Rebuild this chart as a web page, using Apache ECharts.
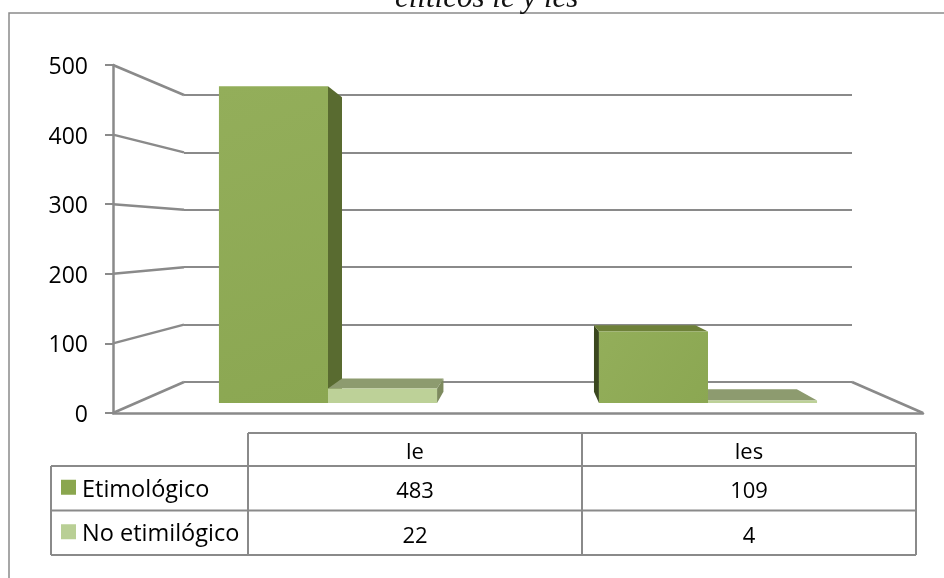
<!DOCTYPE html>
<html>
<head>
<meta charset="utf-8">
<style>html,body{margin:0;padding:0;background:#fff}#chart{width:944px;height:578px}</style>
<script src="https://cdn.jsdelivr.net/npm/echarts@6/dist/echarts.min.js"></script>
</head>
<body>
<div id="chart"></div>
<script>
// Pronoun counts per clitic form
const categories = ['le', 'les'];
const etimologico = [483, 109];
const noEtimologico = [22, 4];
const seriesNames = ['Etimológico', 'No etimilógico'];
const yTicks = [0, 100, 200, 300, 400, 500];
const chartTitle = 'clíticos le y les';

const UI_FONT = '"Open Sans", "Noto Sans", sans-serif';
const LINE = '#8a8a8a';

// Oblique view: rear faces of the bars shrink towards one vanishing point
const VP = { x: 528, y: 243, scale: 0.93 };
const toRear = (p) => [
  VP.x + (p[0] - VP.x) * VP.scale,
  VP.y + (p[1] - VP.y) * VP.scale
];

const chart = echarts.init(document.getElementById('chart'), null, { renderer: 'canvas' });

const polygon = (points, fill, z2) => ({
  type: 'polygon',
  z2,
  shape: { points },
  style: { fill }
});

// One 3D column: front face plus whichever side and top faces the view exposes
function columnRenderer(side, palette) {
  return function (params, api) {
    const base = api.coord([api.value(0), 0]);
    const head = api.coord([api.value(0), api.value(1)]);
    const w = api.size([1, 0])[0] * 0.287;
    const x0 = side < 0 ? base[0] - w : base[0];
    const x1 = x0 + w;
    const tl = [x0, head[1]], tr = [x1, head[1]];
    const bl = [x0, base[1]], br = [x1, base[1]];
    // Nearer the vanishing point means painted later
    const z2 = 1000 - Math.abs((x0 + x1) / 2 - VP.x);
    const faces = [];
    if (x1 < VP.x) {
      faces.push(polygon([tr, toRear(tr), toRear(br), br], palette.side, z2));
    }
    if (x0 > VP.x) {
      faces.push(polygon([tl, toRear(tl), toRear(bl), bl], palette.sideDark, z2));
    }
    if (head[1] > VP.y) {
      faces.push(polygon([tl, toRear(tl), toRear(tr), tr], palette.top, z2));
    }
    faces.push({
      type: 'rect',
      z2: z2 + 1,
      shape: { x: x0, y: head[1], width: w, height: base[1] - head[1] },
      style: { fill: palette.front }
    });
    return { type: 'group', children: faces };
  };
}

// Links the front value axis to the rear wall, plus the floor edge on the right
function renderConnector(params, api) {
  const v = api.value(0);
  const front = api.coord([0, v]);
  const wall = chart.convertToPixel({ gridIndex: 2 }, [0, v]);
  const lineStyle = { stroke: LINE, lineWidth: 2.5, fill: 'none' };
  const children = [{
    type: 'line',
    shape: { x1: front[0], y1: front[1], x2: wall[0], y2: wall[1] },
    style: lineStyle
  }];
  if (v === 0) {
    const frontEnd = api.coord([1, 0]);
    const wallEnd = chart.convertToPixel({ gridIndex: 2 }, [1, 0]);
    children.push({
      type: 'line',
      shape: { x1: frontEnd[0], y1: frontEnd[1], x2: wallEnd[0], y2: wallEnd[1] },
      style: lineStyle
    });
  }
  return { type: 'group', children };
}

// Data table below the plot
function tableGraphics() {
  const cols = [51, 248, 582, 916];
  const rows = [433, 466, 510.5, 555];
  const border = { stroke: LINE, lineWidth: 2 };
  const rule = (x1, y1, x2, y2) => ({
    type: 'line', shape: { x1, y1, x2, y2 }, style: border, z: 10
  });
  const cell = (text, x, y, align, size) => ({
    type: 'text', z: 11, x, y,
    style: {
      text, fill: '#000', font: '400 ' + size + 'px ' + UI_FONT,
      align, verticalAlign: 'middle'
    }
  });
  const out = [
    rule(cols[1], rows[0], cols[3], rows[0]),
    rule(cols[0], rows[1], cols[3], rows[1]),
    rule(cols[0], rows[2], cols[3], rows[2]),
    rule(cols[0], rows[3], cols[3], rows[3]),
    rule(cols[0], rows[1], cols[0], rows[3]),
    rule(cols[1], rows[0], cols[1], rows[3]),
    rule(cols[2], rows[0], cols[2], rows[3]),
    rule(cols[3], rows[0], cols[3], rows[3])
  ];
  categories.forEach((name, i) => {
    const cx = (cols[i + 1] + cols[i + 2]) / 2;
    out.push(cell(name, cx, (rows[0] + rows[1]) / 2 + 3, 'center', 22));
    out.push(cell(String(etimologico[i]), cx, (rows[1] + rows[2]) / 2 + 3.5, 'center', 22));
    out.push(cell(String(noEtimologico[i]), cx, (rows[2] + rows[3]) / 2 + 3.5, 'center', 22));
  });
  [['#8aa64e', etimologico], ['#b9cf95', noEtimologico]].forEach((entry, i) => {
    const mid = (rows[i + 1] + rows[i + 2]) / 2;
    out.push({
      type: 'rect', z: 11,
      shape: { x: 61, y: mid - 8.5, width: 15, height: 15 },
      style: { fill: entry[0] }
    });
    out.push(cell(seriesNames[i], 82, mid + 2, 'left', 23.5));
  });
  // Outer chart frame, open past the right and bottom edges
  out.push({
    type: 'rect', z: 0,
    shape: { x: 9, y: 13, width: 1000, height: 1000 },
    style: { fill: 'none', stroke: LINE, lineWidth: 1.5 }
  });
  return out;
}

chart.setOption({
  animation: false,
  backgroundColor: '#ffffff',
  title: {
    text: chartTitle,
    left: 390,
    top: -22,
    textStyle: {
      fontFamily: '"Liberation Serif", serif',
      fontStyle: 'italic',
      fontWeight: 'normal',
      fontSize: 31,
      color: '#111'
    }
  },
  grid: [
    // Plane of the bar fronts
    { left: 138, width: 760, top: 75, height: 328 },
    // Front value axis and floor edge
    { left: 113, width: 810, top: 65, height: 348 },
    // Rear wall
    { left: 184, width: 668, top: 95, height: 287 },
    // Tick labels, sitting slightly below their ticks
    { left: 113, width: 810, top: 67.5, height: 348 }
  ],
  xAxis: [
    { gridIndex: 0, type: 'category', data: categories, show: false },
    {
      gridIndex: 1, type: 'value', min: 0, max: 1,
      axisLine: { show: true, onZero: false, lineStyle: { color: LINE, width: 2.5 } },
      axisTick: { show: false }, axisLabel: { show: false }, splitLine: { show: false }
    },
    { gridIndex: 2, type: 'value', min: 0, max: 1, show: false, splitLine: { show: false } },
    { gridIndex: 3, type: 'value', min: 0, max: 1, show: false, splitLine: { show: false } }
  ],
  yAxis: [
    { gridIndex: 0, type: 'value', min: 0, max: 500, interval: 100, show: false, splitLine: { show: false } },
    {
      gridIndex: 1, type: 'value', min: 0, max: 500, interval: 100,
      axisLine: { show: true, lineStyle: { color: LINE, width: 2.5 } },
      axisTick: { show: true, length: 8, lineStyle: { color: LINE, width: 2 } },
      axisLabel: { show: false },
      splitLine: { show: false }
    },
    {
      gridIndex: 2, type: 'value', min: 0, max: 500, interval: 100,
      axisLine: { show: false }, axisTick: { show: false }, axisLabel: { show: false },
      splitLine: { show: true, lineStyle: { color: LINE, width: 2 } }
    },
    {
      gridIndex: 3, type: 'value', min: 0, max: 500, interval: 100,
      axisLine: { show: false }, axisTick: { show: false },
      axisLabel: { margin: 25, color: '#000', fontSize: 23, fontFamily: UI_FONT },
      splitLine: { show: false }
    }
  ],
  series: [
    {
      name: 'Conectores',
      type: 'custom',
      xAxisIndex: 1,
      yAxisIndex: 1,
      coordinateSystem: 'cartesian2d',
      z: 1,
      clip: false,
      silent: true,
      data: yTicks.map((v) => [v]),
      encode: { y: 0 },
      renderItem: renderConnector
    },
    {
      name: seriesNames[0],
      type: 'custom',
      xAxisIndex: 0,
      yAxisIndex: 0,
      z: 5,
      clip: false,
      data: etimologico.map((v, i) => [i, v]),
      encode: { x: 0, y: 1 },
      renderItem: columnRenderer(-1, {
        front: new echarts.graphic.LinearGradient(0, 0, 1, 1, [
          { offset: 0, color: '#93ae5a' },
          { offset: 1, color: '#8ba752' }
        ]),
        side: '#596b30',
        sideDark: '#3a471e',
        top: '#6e8139'
      })
    },
    {
      name: seriesNames[1],
      type: 'custom',
      xAxisIndex: 0,
      yAxisIndex: 0,
      z: 5,
      clip: false,
      data: noEtimologico.map((v, i) => [i, v]),
      encode: { x: 0, y: 1 },
      renderItem: columnRenderer(1, {
        front: '#bdd198',
        side: '#7d8a5e',
        sideDark: '#7d8a5e',
        top: '#8d9b6f'
      })
    }
  ],
  graphic: { elements: tableGraphics() }
});
</script>
</body>
</html>
